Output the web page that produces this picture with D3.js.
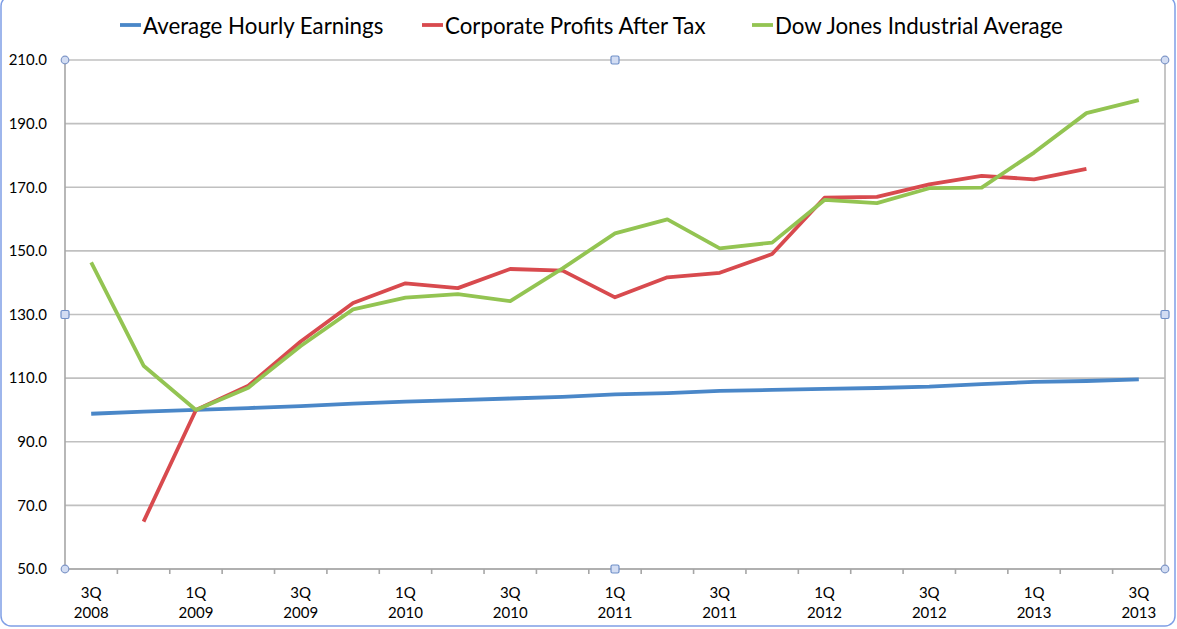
<!DOCTYPE html>
<html><head><meta charset="utf-8">
<script src="https://cdn.jsdelivr.net/npm/d3@7"></script>
<style>body{margin:0;background:#fff}svg{display:block}text{font-family:Lato,"Open Sans",sans-serif;fill:#000}</style>
</head><body><svg id="c" width="1177" height="629"></svg>
<script>
const quarters = ["3Q 2008","4Q 2008","1Q 2009","2Q 2009","3Q 2009","4Q 2009","1Q 2010","2Q 2010","3Q 2010","4Q 2010","1Q 2011","2Q 2011","3Q 2011","4Q 2011","1Q 2012","2Q 2012","3Q 2012","4Q 2012","1Q 2013","2Q 2013","3Q 2013"];
const seriesNames = ["Average Hourly Earnings","Corporate Profits After Tax","Dow Jones Industrial Average"];
const hourlyEarnings = [98.8,99.5,100.0,100.6,101.2,102.0,102.6,103.1,103.6,104.1,104.9,105.3,106.0,106.3,106.6,106.9,107.3,108.1,108.8,109.1,109.6];
const corporateProfits = [null,64.9,100.0,107.6,121.5,133.6,139.8,138.3,144.3,143.8,135.4,141.7,143.1,149.0,166.7,167.0,170.9,173.6,172.5,175.8,null];
const dowJones = [146.4,113.9,100.0,107.0,120.1,131.6,135.3,136.4,134.2,144.5,155.5,159.9,150.8,152.6,166.0,165.0,169.7,169.9,180.9,193.3,197.4];
const yTicks = [50,70,90,110,130,150,170,190,210];
const colors = ["#4a87c8","#d84a4e","#93c452"];

const svg = d3.select("#c");
const L=65,R=1165,T=60,B=569;
const x = d3.scaleBand().domain(quarters).range([L,R]);
const y = d3.scaleLinear().domain([50,210]).range([B,T]);

// outer selection frame
svg.append("rect").attr("x",1).attr("y",-4).attr("width",1174).attr("height",630).attr("rx",10)
  .attr("fill","none").attr("stroke","#7f9fe6").attr("stroke-width",1.5);

// gridlines
svg.append("g").selectAll("line").data(yTicks).join("line")
  .attr("x1",L).attr("x2",R).attr("y1",d=>y(d)).attr("y2",d=>y(d))
  .attr("stroke","#c0c0c0").attr("stroke-width",1.6);
// plot border verticals
svg.append("line").attr("x1",L).attr("x2",L).attr("y1",T).attr("y2",B).attr("stroke","#a6a6a6").attr("stroke-width",1.6);
svg.append("line").attr("x1",R).attr("x2",R).attr("y1",T).attr("y2",B).attr("stroke","#b8b8b8").attr("stroke-width",1.6);
svg.append("line").attr("x1",L).attr("x2",R).attr("y1",B).attr("y2",B).attr("stroke","#a6a6a6").attr("stroke-width",1.6);

// y labels
svg.append("g").selectAll("text").data(yTicks).join("text")
  .attr("x",47).attr("y",d=>y(d)).attr("dy","0.35em").attr("text-anchor","end")
  .style("font-size","15px").text(d=>d.toFixed(1));

// x ticks at band boundaries
const bounds = quarters.map(q=>x(q)).concat([R]);
svg.append("g").selectAll("line").data(bounds.slice(1,-1)).join("line")
  .attr("x1",d=>d).attr("x2",d=>d).attr("y1",B).attr("y2",B+5)
  .attr("stroke","#a6a6a6").attr("stroke-width",1.6);
// x labels every other quarter
const xl = svg.append("g").selectAll("text").data(quarters.filter((q,i)=>i%2===0)).join("text")
  .attr("x",d=>x(d)+x.bandwidth()/2).attr("y",598).attr("text-anchor","middle").style("font-size","15px");
xl.append("tspan").attr("x",d=>x(d)+x.bandwidth()/2).text(d=>d.split(" ")[0]);
xl.append("tspan").attr("x",d=>x(d)+x.bandwidth()/2).attr("dy",20).text(d=>d.split(" ")[1]);

// lines
const allSeries = [hourlyEarnings,corporateProfits,dowJones];
const line = d3.line().defined(d=>d.v!=null).x(d=>x(d.q)+x.bandwidth()/2).y(d=>y(d.v));
allSeries.forEach((s,k)=>{
  svg.append("path").datum(quarters.map((q,i)=>({q,v:s[i]})))
    .attr("d",line).attr("fill","none").attr("stroke",colors[k]).attr("stroke-width",3.8)
    .attr("stroke-linejoin","round");
});

// legend
const legX=[120,422,752];
seriesNames.forEach((n,k)=>{
  svg.append("line").attr("x1",legX[k]).attr("x2",legX[k]+21).attr("y1",25).attr("y2",25)
    .attr("stroke",colors[k]).attr("stroke-width",3.8);
  svg.append("text").attr("x",legX[k]+23).attr("y",26).attr("dy","0.35em").style("font-size","22.3px").text(n);
});

// selection handles
const hc=[[L,T],[R,T],[L,B],[R,B]], hs=[[(L+R)/2,T],[L,(T+B)/2],[R,(T+B)/2],[(L+R)/2,B]];
svg.append("g").selectAll("circle").data(hc).join("circle").attr("cx",d=>d[0]).attr("cy",d=>d[1]).attr("r",3.8)
  .attr("fill","#d3ddf3").attr("stroke","#7f97c8").attr("stroke-width",1.2);
svg.append("g").selectAll("rect").data(hs).join("rect").attr("x",d=>d[0]-4).attr("y",d=>d[1]-4).attr("width",8).attr("height",8).attr("rx",1.5)
  .attr("fill","#d3ddf3").attr("stroke","#6f8fc8").attr("stroke-width",1.2);
</script></body></html>
